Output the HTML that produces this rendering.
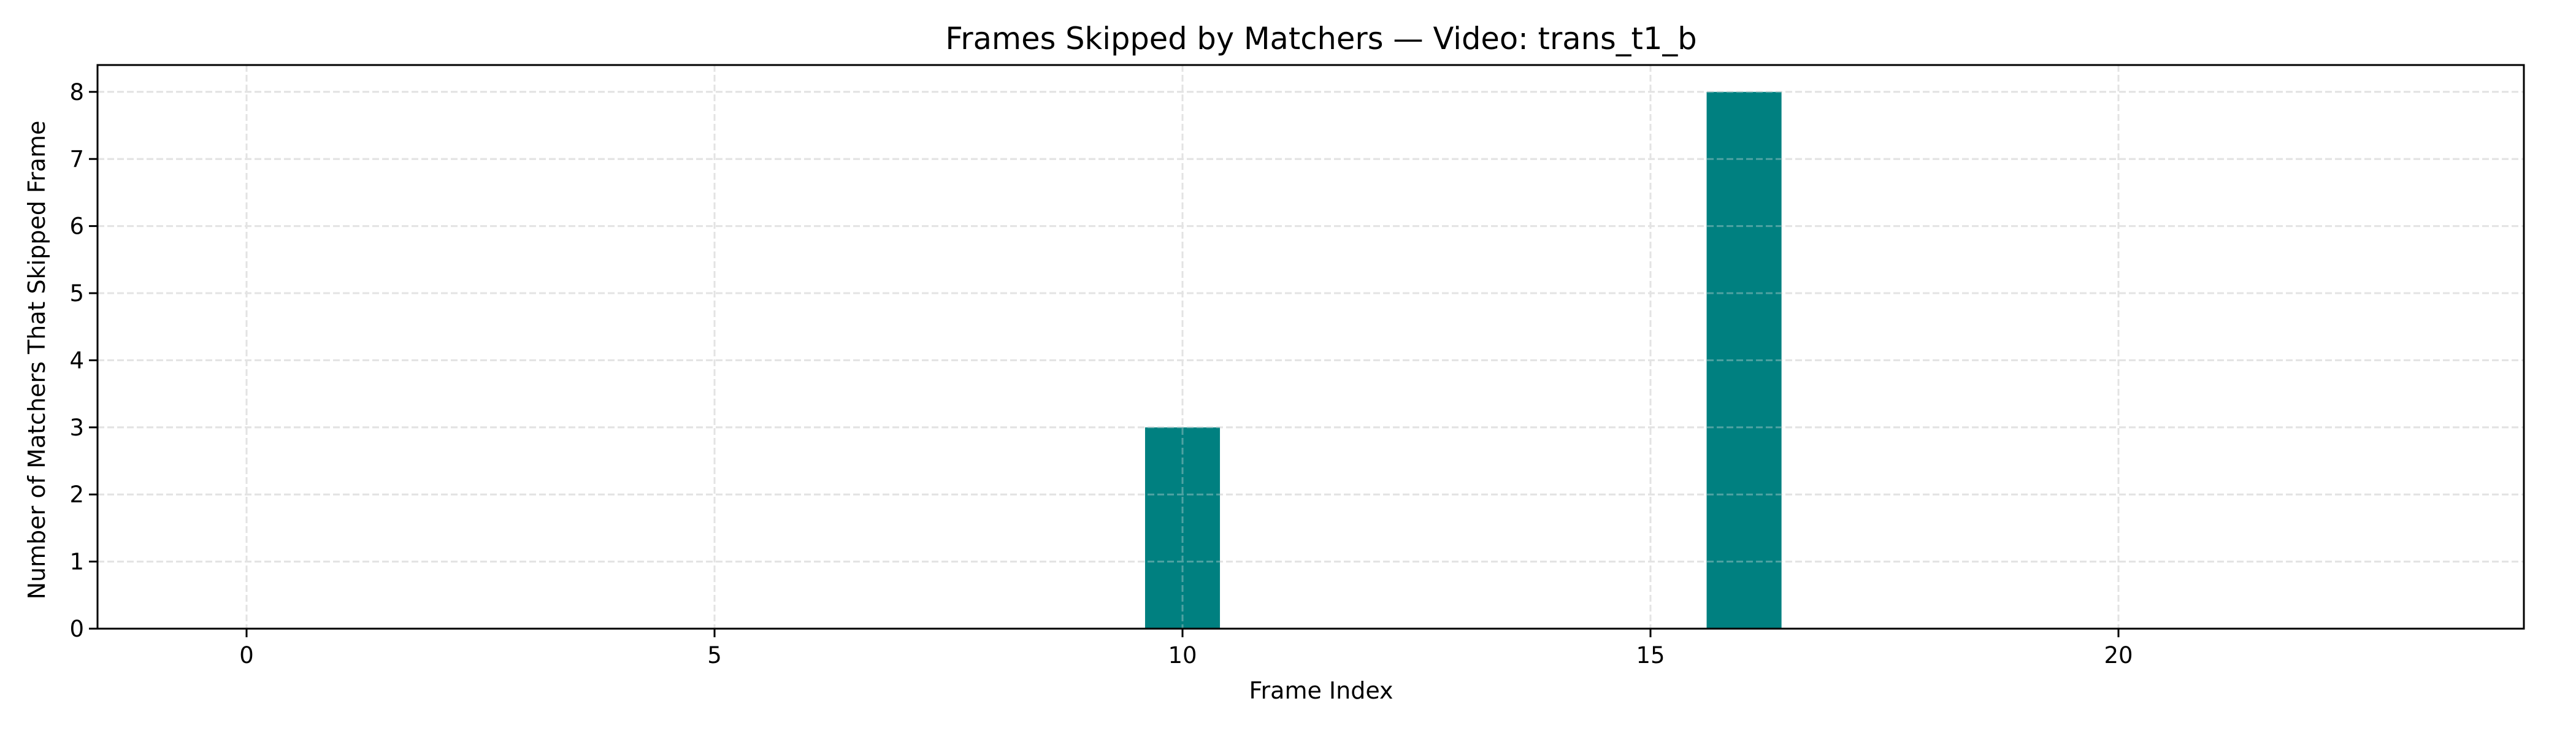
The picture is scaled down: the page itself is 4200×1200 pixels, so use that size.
<!DOCTYPE html>
<html><head><meta charset="utf-8"><style>
html,body{margin:0;padding:0;background:#fff;}
svg{display:block;font-family:"DejaVu Sans","Liberation Sans",sans-serif;}
</style></head><body>
<svg id="chart" width="4200" height="1200" viewBox="0 0 4200 1200" xmlns="http://www.w3.org/2000/svg">
<rect width="4200" height="1200" fill="#fff"/>
<g id="grid"></g>
<g id="bars"></g>
<g id="axes"></g>
<text x="2154" y="80" font-size="49.5" text-anchor="middle">Frames Skipped by Matchers — Video: trans_t1_b</text>
<text x="2154" y="1139" font-size="38" text-anchor="middle">Frame Index</text>
<text transform="translate(73,587) rotate(-90)" font-size="38" text-anchor="middle">Number of Matchers That Skipped Frame</text>
</svg>
<script>
const frames = [0,1,2,3,4,5,6,7,8,9,10,11,12,13,14,15,16,17,18,19,20,21,22,23];
const counts = [0,0,0,0,0,0,0,0,0,0,3,0,0,0,0,0,8,0,0,0,0,0,0,0];
const xTicks = [0,5,10,15,20];
const yTicks = [0,1,2,3,4,5,6,7,8];

const L=159,R=4115,T=106,B=1025;
const X0=402,XU=152.6;
const Y0=1025,YU=109.4;
function xs(v){return X0+v*XU;}
function ys(v){return Y0-v*YU;}
const NS='http://www.w3.org/2000/svg';
function mk(tag,attrs,parent){const e=document.createElementNS(NS,tag);for(const k in attrs)e.setAttribute(k,attrs[k]);parent.appendChild(e);return e;}
const grid=document.getElementById('grid'),bars=document.getElementById('bars'),axes=document.getElementById('axes');

yTicks.forEach(v=>{
  const g=mk('line',{x1:L,x2:R,y1:ys(v),y2:ys(v),stroke:'#e3e3e3','stroke-width':3,'stroke-dasharray':'11,5'},grid);
  
  
  const t=mk('line',{x1:L-14,x2:L,y1:ys(v),y2:ys(v),stroke:'#000','stroke-width':3},axes);
  
  
  const l=mk('text',{x:L-22,y:ys(v)+13,'font-size':37,'text-anchor':'end'},axes);
  l.textContent=v;
  
  
});
xTicks.forEach(v=>{
  const g=mk('line',{x1:xs(v),x2:xs(v),y1:T,y2:B,stroke:'#e3e3e3','stroke-width':3,'stroke-dasharray':'11,5'},grid);
  
  
  const t=mk('line',{x1:xs(v),x2:xs(v),y1:B,y2:B+14,stroke:'#000','stroke-width':3},axes);
  
  
  const l=mk('text',{x:xs(v),y:B+56,'font-size':37,'text-anchor':'middle'},axes);
  l.textContent=v;
  
  
});
frames.forEach((f,i)=>{
  const v=counts[i]; if(!v) return;
  const w=0.8*XU;
  const r=mk('rect',{x:xs(f)-w/2,y:ys(v),width:w,height:ys(0)-ys(v),fill:'#008080'},bars);
  
  
});
const grid2=grid.cloneNode(true);
grid2.setAttribute('opacity','0.35');
document.getElementById('chart').insertBefore(grid2,axes);
const frame=mk('rect',{x:L,y:T,width:R-L,height:B-T,fill:'none',stroke:'#000','stroke-width':3},axes);


</script>
</body></html>
